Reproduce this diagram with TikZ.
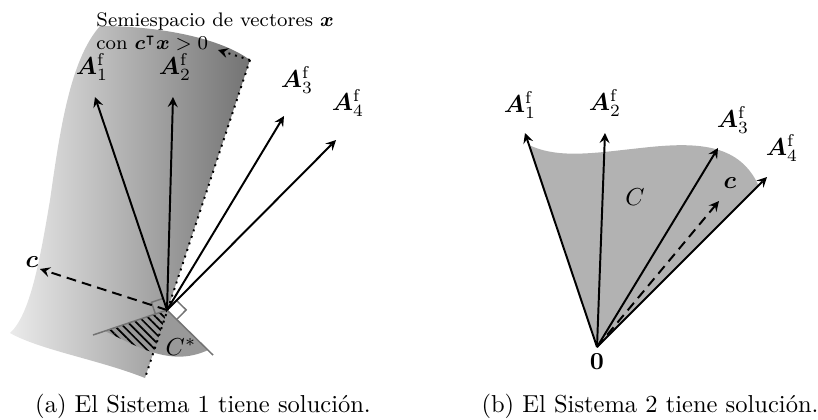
\documentclass[tikz,border=0pt]{standalone}
\usepackage{amsmath, amssymb, bm}
\usetikzlibrary{arrows.meta, calc, patterns.meta}

\begin{document}
\begin{tikzpicture}[
  x=0.408pt, y=-0.408pt,
  >=stealth,
  vec/.style={->, thick},
  cvec/.style={->, thick, dash pattern=on 4pt off 2.5pt},
  polar/.style={draw=black!55, semithick},
  rmark/.style={draw=black!55, semithick}
  ]
  \useasboundingbox (0,0) rectangle (818,419);
  % --- (a) ---
  \coordinate (O)  at (167,310);
  \coordinate (A1) at ( 95, 97);
  \coordinate (A2) at (173, 97);
  \coordinate (A3) at (284,116);
  \coordinate (A4) at (336,140);
  \coordinate (c)  at ( 40,269);
  \coordinate (ht) at (250, 60);
  \coordinate (hb) at (145,378);
  \coordinate (rot) at (218, 50);
  \coordinate (pL) at ( 93,335);
  \coordinate (pR) at (213,355);
  \shade[left color=black!8, right color=black!55]
    (100,26) .. controls (160,26) and (220,38) .. (ht)
    -- (hb) .. controls (100,360) and (40,350) .. (10,333)
    .. controls (30,315) and (40,260) .. (50,200)
    .. controls (60,130) and (70,60) .. (100,26) -- cycle;
  \fill[black!40] (O) -- ($(O)!0.84!(pL)$) .. controls (135,345) and (170,368) .. ($(O)!0.89!(pR)$) -- cycle;
  \begin{scope}
    \clip (ht) -- (hb) -- (0,419) -- (0,0) -- cycle;
    \fill[pattern={Lines[angle=-45, distance=2.4pt, line width=0.7pt]}]
      (O) -- ($(O)!0.84!(pL)$) .. controls (135,345) and (170,368) .. ($(O)!0.89!(pR)$) -- cycle;
  \end{scope}
  \draw[polar] (pL) -- (O) -- (pR);
  \draw[rmark] ($(O)!5pt!(A1)$) -- ($(O)!5pt!(A1) + (O)!5pt!(pL) - (O)$) -- ($(O)!5pt!(pL)$);
  \draw[rmark] ($(O)!5.5pt!(A4)$) -- ($(O)!5.5pt!(A4) + (O)!5.5pt!(pR) - (O)$) -- ($(O)!5.5pt!(pR)$);
  \node (Cst) at (181,347) {$C^*$};
  \draw[thick, dotted] (ht) -- (hb);
  \draw[thick, dotted, ->] (ht) -- (rot);
  \draw[cvec] (O) -- (c);
  \draw[vec] (O) -- (A1);
  \draw[vec] (O) -- (A2);
  \draw[vec] (O) -- (A3);
  \draw[vec] (O) -- (A4);
  \node (lA1) at ( 92, 67) {$\bm{A}^{\mathrm{f}}_1$};
  \node (lA2) at (175, 67) {$\bm{A}^{\mathrm{f}}_2$};
  \node (lA3) at (297, 80) {$\bm{A}^{\mathrm{f}}_3$};
  \node (lA4) at (348,103) {$\bm{A}^{\mathrm{f}}_4$};
  \node (lc)  at ( 32,262) {$\bm{c}$};
  \node (semi) [anchor=north west, align=left, inner sep=0pt, font=\footnotesize] at (96,12)
    {Semiespacio de vectores $\bm{x}$\\ con $\bm{c}^{\intercal}\bm{x} > 0$};
  \node (capa) [anchor=base] at (203,412) {(a) El Sistema 1 tiene solución.};
  % --- (b) ---
  \coordinate (Q)  at (597,347);
  \coordinate (B1) at (525,133);
  \coordinate (B2) at (605,133);
  \coordinate (B3) at (718,148);
  \coordinate (B4) at (767,177);
  \coordinate (d)  at (719,201);
  \fill[black!30] (Q) -- ($(Q)!0.944!(B1)$) .. controls (560,160) and (600,152) .. (650,147)
    .. controls (700,142) and (740,145) .. ($(Q)!0.95!(B4)$) -- cycle;
  \draw[cvec] (Q) -- (d);
  \draw[vec] (Q) -- (B1);
  \draw[vec] (Q) -- (B2);
  \draw[vec] (Q) -- (B3);
  \draw[vec] (Q) -- (B4);
  \node (lB1) at (520,105) {$\bm{A}^{\mathrm{f}}_1$};
  \node (lB2) at (605,103) {$\bm{A}^{\mathrm{f}}_2$};
  \node (lB3) at (733,120) {$\bm{A}^{\mathrm{f}}_3$};
  \node (lB4) at (782,148) {$\bm{A}^{\mathrm{f}}_4$};
  \node (ld)  at (730,183) {$\bm{c}$};
  \node (lC)  at (635,197) {$C$};
  \node (l0)  at (597,362) {$\mathbf{0}$};
  \node (capb) [anchor=base] at (650,412) {(b) El Sistema 2 tiene solución.};
\end{tikzpicture}
\end{document}
